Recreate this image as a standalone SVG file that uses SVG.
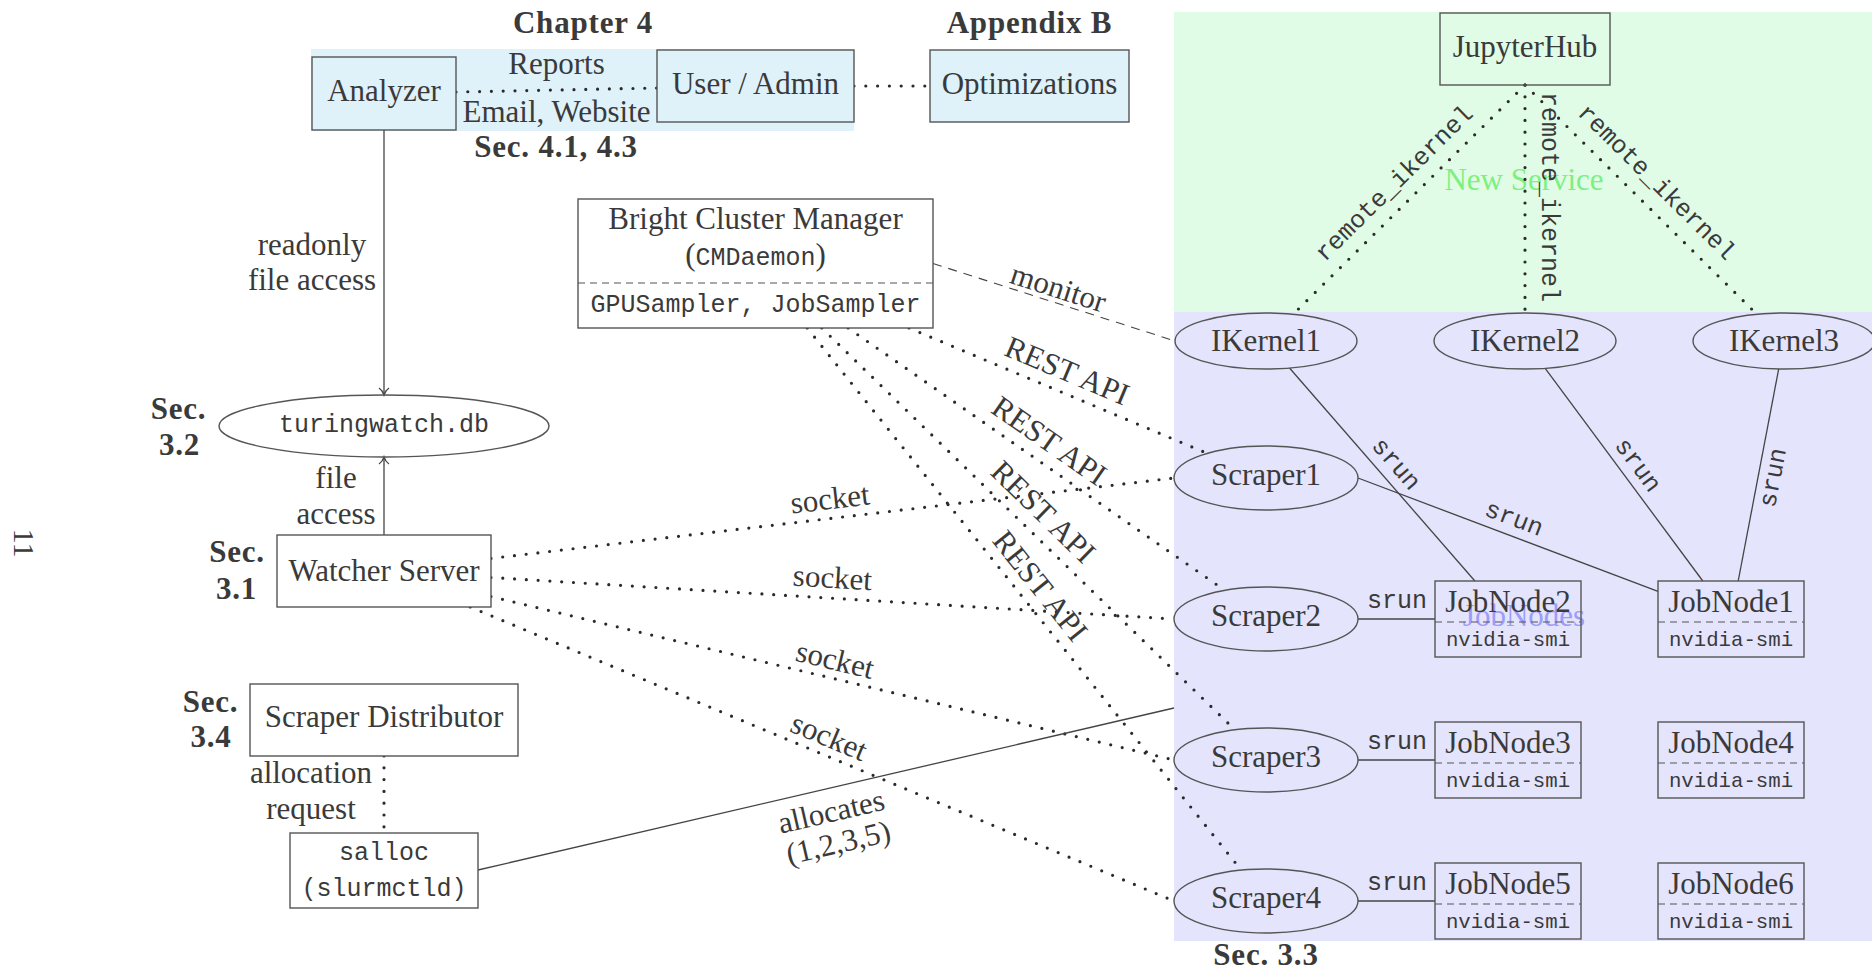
<svg xmlns="http://www.w3.org/2000/svg" width="1872" height="971" viewBox="0 0 1872 971">
  <defs>
    <style>
      .t { font-family: "Liberation Serif", "Times New Roman", serif; font-size: 31px; fill: #3a3a3a; text-anchor: middle; }
      .b { font-family: "Liberation Serif", "Times New Roman", serif; font-weight: bold; font-size: 31px; letter-spacing: 0.8px; fill: #3a3a3a; text-anchor: middle; }
      .m { font-family: "Liberation Mono", "Courier New", monospace; font-size: 25px; fill: #3a3a3a; text-anchor: middle; }
      .ms { font-family: "Liberation Mono", "Courier New", monospace; font-size: 20.7px; fill: #3a3a3a; text-anchor: middle; }
      .box { fill: none; stroke: #555; stroke-width: 1.4; }
      .boxw { fill: #fff; stroke: #555; stroke-width: 1.4; }
      .boxb { fill: #dff2fa; stroke: #555; stroke-width: 1.4; }
      .ell { fill: none; stroke: #555; stroke-width: 1.4; }
      .sep { stroke: #555; stroke-width: 1.2; stroke-dasharray: 7 5; fill: none; }
      .solid { stroke: #444; stroke-width: 1.3; fill: none; }
      .dot { stroke: #2a2a2a; stroke-width: 3.2; stroke-linecap: round; stroke-dasharray: 0 11.8; fill: none; }
      .dash { stroke: #444; stroke-width: 1.1; stroke-dasharray: 9 7; fill: none; }
    </style>
    <marker id="arr" markerUnits="userSpaceOnUse" markerWidth="16" markerHeight="16" viewBox="-10 -8 12 16" refX="0" refY="0" orient="auto">
      <path d="M -7,-5 C -5,-2 -2,-0.6 0,0 C -2,0.6 -5,2 -7,5" fill="none" stroke="#444" stroke-width="1.3"/>
    </marker>
  </defs>

  <!-- background regions -->
  <g id="regions">
    <rect x="311" y="49" width="543" height="82" fill="#dff2fa"/>
    <rect x="1174" y="12" width="698" height="300" fill="#e0fce6"/>
    <rect x="1174" y="312" width="698" height="629" fill="#e4e4fc"/>
    <text class="t" x="1524" y="190" style="fill:#7ef07e">New Service</text>
    <text class="t" x="1524" y="626" style="fill:#9d9df9">JobNodes</text>
  </g>

  <!-- headings and section marks -->
  <g id="headings">
    <text class="b" x="583" y="33">Chapter 4</text>
    <text class="b" x="1029.5" y="33">Appendix B</text>
    <text class="b" x="556" y="157">Sec. 4.1, 4.3</text>
    <text class="b" x="178.5" y="419">Sec.</text>
    <text class="b" x="179.5" y="455">3.2</text>
    <text class="b" x="237" y="562">Sec.</text>
    <text class="b" x="236.5" y="599">3.1</text>
    <text class="b" x="210.5" y="712">Sec.</text>
    <text class="b" x="211" y="747">3.4</text>
    <text class="b" x="1266" y="965">Sec. 3.3</text>
    <text class="t" transform="translate(14,543) rotate(90)" style="font-size:30px">11</text>
  </g>

  <!-- connectors -->
  <g id="connectors">
    <path class="solid" d="M384,130 L384,395" marker-end="url(#arr)"/>
    <path class="solid" d="M384,535 L384,457" marker-end="url(#arr)"/>
    <path class="dot" d="M456,92 L657,88"/>
    <path class="dot" d="M854,86 L930,86"/>
    <path class="dash" d="M933,263.5 L1175,341"/>

    <path class="dot" d="M909,328 L1207.3,453.4"/>
    <path class="dot" d="M848.1,328 L1224.9,590.4"/>
    <path class="dot" d="M821.8,328 L1235,729.9"/>
    <path class="dot" d="M807.2,328 L1241.3,870.2"/>

    <path class="dot" d="M491,558.4 L1174,478"/>
    <path class="dot" d="M491,577.5 L1174,619"/>
    <path class="dot" d="M491,596.6 L1174,760"/>
    <path class="dot" d="M470.2,607 L1174,901"/>

    <path class="dot" d="M384,756 L384,833"/>
    <path class="solid" d="M478,870 L1174,708"/>

    <path class="dot" d="M1525,85 L1293.1,314.3"/>
    <path class="dot" d="M1525,85 L1525,313"/>
    <path class="dot" d="M1525,85 L1756.9,314.3"/>

    <path class="solid" d="M1289.5,368 L1474.9,581"/>
    <path class="solid" d="M1545.2,368.3 L1702.8,581"/>
    <path class="solid" d="M1778.7,368.9 L1738.2,581"/>
    <path class="solid" d="M1358,478 L1658,591.4"/>
    <path class="solid" d="M1358,619 L1435,619"/>
    <path class="solid" d="M1358,760 L1435,760"/>
    <path class="solid" d="M1358,901 L1435,901"/>

    <!-- edge labels -->
    <text class="t" x="556.5" y="74">Reports</text>
    <text class="t" x="556.5" y="122">Email, Website</text>
    <text class="t" x="312" y="255">readonly</text>
    <text class="t" x="312" y="290">file access</text>
    <text class="t" x="336" y="488">file</text>
    <text class="t" x="336" y="524">access</text>
    <text class="t" x="311" y="783">allocation</text>
    <text class="t" x="311" y="819">request</text>
    <text class="t" transform="translate(1058,289) rotate(17.8)" y="9">monitor</text>

    <text class="t" transform="translate(1067,371) rotate(22.8)" y="10">REST API</text>
    <text class="t" transform="translate(1049,441) rotate(34.85)" y="10">REST API</text>
    <text class="t" transform="translate(1043,512) rotate(44.2)" y="10">REST API</text>
    <text class="t" transform="translate(1040,586) rotate(51.3)" y="10">REST API</text>

    <text class="t" transform="translate(830,499) rotate(-6.7)" y="10">socket</text>
    <text class="t" transform="translate(832.5,578) rotate(3.5)" y="10">socket</text>
    <text class="t" transform="translate(835,660) rotate(13.45)" y="10">socket</text>
    <text class="t" transform="translate(829,737) rotate(22.7)" y="10">socket</text>

    <g transform="translate(826,789.4) rotate(-13.06)">
      <text class="t" x="0" y="33">allocates</text>
      <text class="t" x="0" y="65">(1,2,3,5)</text>
    </g>

    <text class="m" transform="translate(1394,183) rotate(-44.6)" y="8">remote_ikernel</text>
    <text class="m" transform="translate(1550,197) rotate(90)" y="8">remote_ikernel</text>
    <text class="m" transform="translate(1657,182) rotate(44.6)" y="8">remote_ikernel</text>

    <text class="m" transform="translate(1395,465) rotate(48.95)" y="6">srun</text>
    <text class="m" transform="translate(1636.7,466) rotate(53.4)" y="6">srun</text>
    <text class="m" transform="translate(1774.5,478) rotate(-79.1)" y="6">srun</text>
    <text class="m" transform="translate(1513.5,520) rotate(20.8)" y="6">srun</text>
    <text class="m" x="1397" y="608">srun</text>
    <text class="m" x="1397" y="749">srun</text>
    <text class="m" x="1397" y="890">srun</text>
  </g>

  <!-- nodes -->
  <g id="analyzer">
    <rect class="boxb" x="312" y="57" width="144" height="73"/>
    <text class="t" x="384" y="101">Analyzer</text>
  </g>
  <g id="user-admin">
    <rect class="boxb" x="657" y="50" width="197" height="72"/>
    <text class="t" x="755.5" y="94">User / Admin</text>
  </g>
  <g id="optimizations">
    <rect class="boxb" x="930" y="50" width="199" height="72"/>
    <text class="t" x="1029.5" y="94">Optimizations</text>
  </g>
  <g id="bright">
    <rect class="boxw" x="578" y="199" width="355" height="129"/>
    <line class="sep" x1="578" y1="283" x2="933" y2="283"/>
    <text class="t" x="755.5" y="229">Bright Cluster Manager</text>
    <text class="t" x="755.5" y="265">(<tspan class="m" style="text-anchor:start">CMDaemon</tspan>)</text>
    <text class="m" x="755.5" y="312">GPUSampler, JobSampler</text>
  </g>
  <g id="turingwatch-db">
    <ellipse class="ell" cx="384" cy="426" rx="165" ry="31"/>
    <text class="m" x="384" y="432">turingwatch.db</text>
  </g>
  <g id="watcher-server">
    <rect class="boxw" x="277" y="535" width="214" height="72"/>
    <text class="t" x="384" y="581">Watcher Server</text>
  </g>
  <g id="scraper-distributor">
    <rect class="boxw" x="250" y="684" width="268" height="72"/>
    <text class="t" x="384" y="727">Scraper Distributor</text>
  </g>
  <g id="salloc">
    <rect class="boxw" x="290" y="833" width="188" height="75"/>
    <text class="m" x="384" y="860">salloc</text>
    <text class="m" x="384" y="896">(slurmctld)</text>
  </g>
  <g id="jupyterhub">
    <rect class="box" x="1440" y="13" width="170" height="72"/>
    <text class="t" x="1525" y="56.5">JupyterHub</text>
  </g>
  <g id="ikernel1">
    <ellipse class="ell" cx="1266" cy="341" rx="91" ry="28"/>
    <text class="t" x="1266" y="351">IKernel1</text>
  </g>
  <g id="ikernel2">
    <ellipse class="ell" cx="1525" cy="341" rx="91" ry="28"/>
    <text class="t" x="1525" y="351">IKernel2</text>
  </g>
  <g id="ikernel3">
    <ellipse class="ell" cx="1784" cy="341" rx="91" ry="28"/>
    <text class="t" x="1784" y="351">IKernel3</text>
  </g>
  <g id="scraper1">
    <ellipse class="ell" cx="1266" cy="478" rx="92" ry="32"/>
    <text class="t" x="1266" y="485">Scraper1</text>
  </g>
  <g id="scraper2">
    <ellipse class="ell" cx="1266" cy="619" rx="92" ry="32"/>
    <text class="t" x="1266" y="626">Scraper2</text>
  </g>
  <g id="scraper3">
    <ellipse class="ell" cx="1266" cy="760" rx="92" ry="32"/>
    <text class="t" x="1266" y="767">Scraper3</text>
  </g>
  <g id="scraper4">
    <ellipse class="ell" cx="1266" cy="901" rx="92" ry="32"/>
    <text class="t" x="1266" y="908">Scraper4</text>
  </g>
  <g id="jobnode2">
    <rect class="box" x="1435" y="581" width="146" height="76"/>
    <line class="sep" x1="1435" y1="622" x2="1581" y2="622"/>
    <text class="t" x="1508" y="611.5">JobNode2</text>
    <text class="ms" x="1508" y="646">nvidia-smi</text>
  </g>
  <g id="jobnode1">
    <rect class="box" x="1658" y="581" width="146" height="76"/>
    <line class="sep" x1="1658" y1="622" x2="1804" y2="622"/>
    <text class="t" x="1731" y="611.5">JobNode1</text>
    <text class="ms" x="1731" y="646">nvidia-smi</text>
  </g>
  <g id="jobnode3">
    <rect class="box" x="1435" y="722" width="146" height="76"/>
    <line class="sep" x1="1435" y1="763" x2="1581" y2="763"/>
    <text class="t" x="1508" y="752.5">JobNode3</text>
    <text class="ms" x="1508" y="787">nvidia-smi</text>
  </g>
  <g id="jobnode4">
    <rect class="box" x="1658" y="722" width="146" height="76"/>
    <line class="sep" x1="1658" y1="763" x2="1804" y2="763"/>
    <text class="t" x="1731" y="752.5">JobNode4</text>
    <text class="ms" x="1731" y="787">nvidia-smi</text>
  </g>
  <g id="jobnode5">
    <rect class="box" x="1435" y="863" width="146" height="76"/>
    <line class="sep" x1="1435" y1="904" x2="1581" y2="904"/>
    <text class="t" x="1508" y="893.5">JobNode5</text>
    <text class="ms" x="1508" y="928">nvidia-smi</text>
  </g>
  <g id="jobnode6">
    <rect class="box" x="1658" y="863" width="146" height="76"/>
    <line class="sep" x1="1658" y1="904" x2="1804" y2="904"/>
    <text class="t" x="1731" y="893.5">JobNode6</text>
    <text class="ms" x="1731" y="928">nvidia-smi</text>
  </g>
</svg>
